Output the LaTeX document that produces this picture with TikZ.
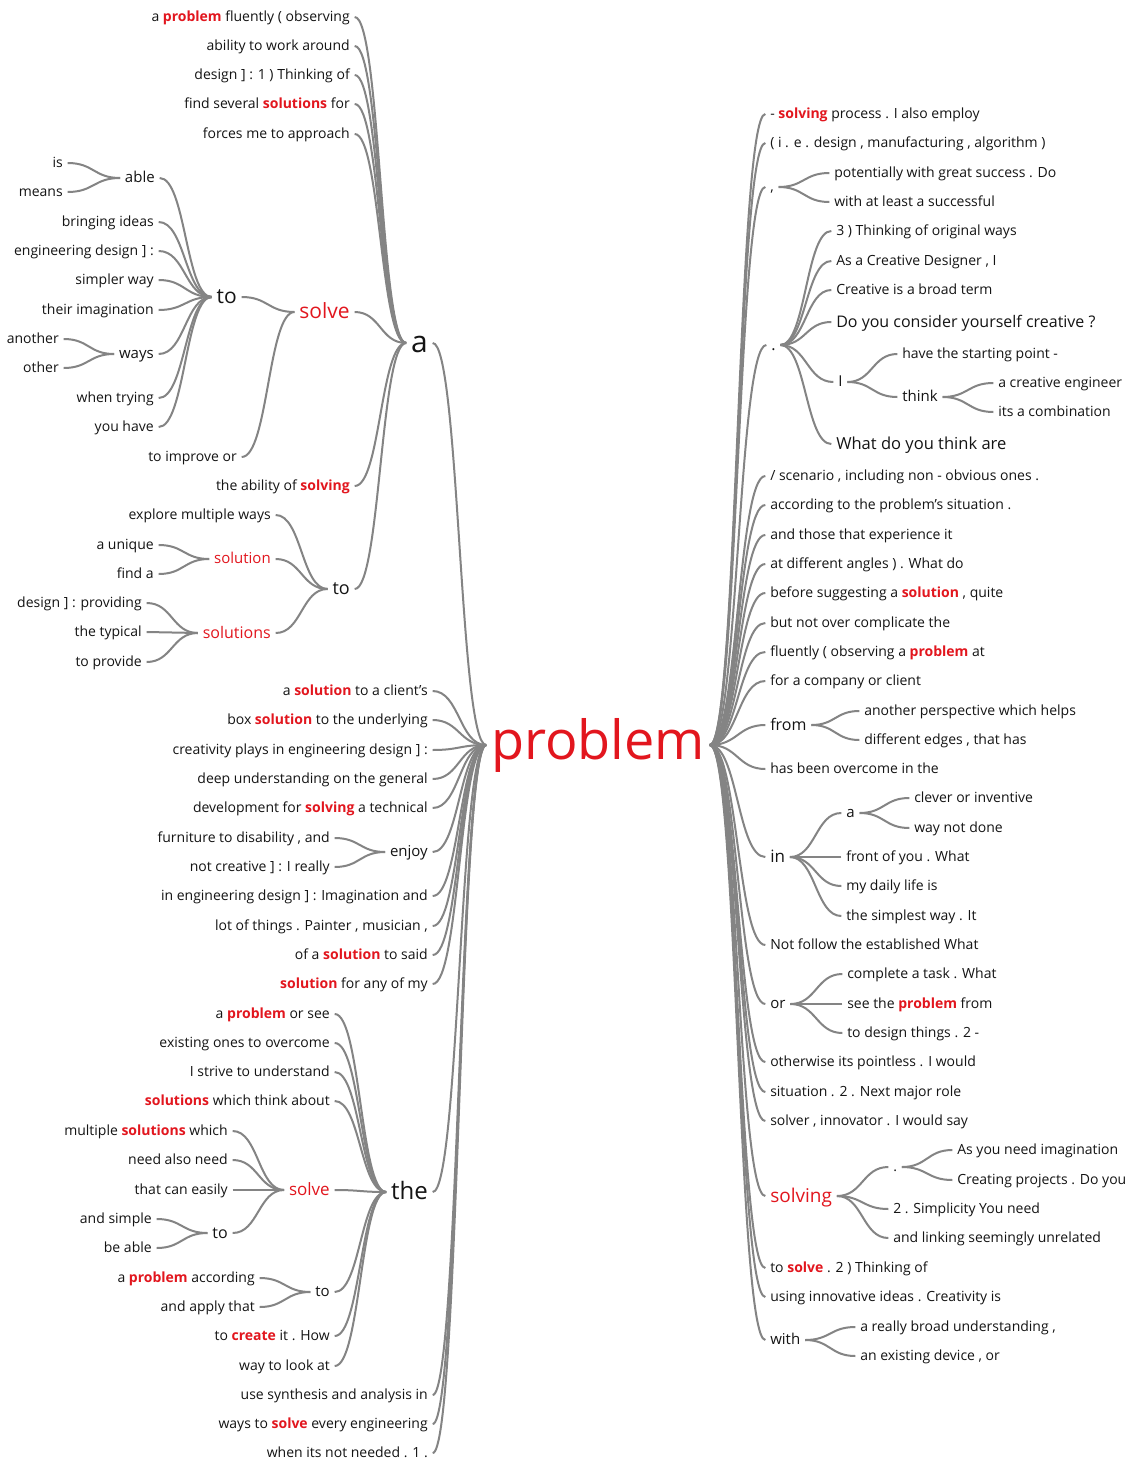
\documentclass[tikz,border=0pt]{standalone}
\usepackage{fontspec}
\setmainfont{Open Sans}
\usetikzlibrary{calc}
\definecolor{wred}{RGB}{226,22,30}
\definecolor{wline}{RGB}{132,132,132}
\definecolor{wtxt}{RGB}{20,20,20}
\newcommand\hl[1]{{\color{wred}\bfseries #1}}
\newcommand\lk[2]{\draw[lnk] let \p1=(#1),\p2=(#2) in (\p1) .. controls ({(\x1+\x2)/2},\y1) and ({(\x1+\x2)/2},\y2) .. (\p2);}
\tikzset{
  sz/.style={font=\fontsize{#1pt}{#1pt}\selectfont, text height=\dimexpr#1pt*84/100\relax, text depth=\dimexpr#1pt*20/100\relax},
  w/.style={inner sep=0pt, text=wtxt, sz=10.5},
  L/.style={w, anchor=east},
  R/.style={w, anchor=west},
  lnk/.style={draw=wline, line width=1.5pt, shorten <=3.5pt, shorten >=3.5pt},
}
\begin{document}
\begin{tikzpicture}[x=0.75pt,y=-0.75pt]
\useasboundingbox[fill=white] (0,0) rectangle (1129,1463);
% root
\node[w,sz=40.5,text=wred,text height=29.2pt,text depth=8.1pt] (P) at (598,745) {problem};

% ================= LEFT =================
\node[L,sz=22.5] (a) at (428,343) {a};
\node[L] (a1) at (350,17) {a \hl{problem} fluently ( observing};
\node[L] (a2) at (350,46) {ability to work around};
\node[L] (a3) at (350,75) {design ] : 1 ) Thinking of};
\node[L] (a4) at (350,104) {find several \hl{solutions} for};
\node[L] (a5) at (350,134) {forces me to approach};
\node[L,sz=15.75,text=wred] (sv) at (350,312) {solve};
\node[L,sz=15.75] (to1) at (237,297) {to};
\node[L,sz=11.25] (able) at (155,178) {able};
\node[L] (is) at (63,163) {is};
\node[L] (means) at (63,192) {means};
\node[L] (bi) at (154,222) {bringing ideas};
\node[L] (ed) at (154,251) {engineering design ] :};
\node[L] (sw) at (154,280) {simpler way};
\node[L] (ti) at (154,310) {their imagination};
\node[L,sz=11.25] (ways) at (154,354) {ways};
\node[L] (another) at (59,339) {another};
\node[L] (other) at (59,368) {other};
\node[L] (wt) at (154,398) {when trying};
\node[L] (yh) at (154,427) {you have};
\node[L] (tio) at (237,457) {to improve or};
\node[L] (tao) at (350,486) {the ability of \hl{solving}};
\node[L,sz=13.5] (to2) at (350,589) {to};
\node[L] (emw) at (271,515) {explore multiple ways};
\node[L,sz=11.25,text=wred] (sol) at (271,559) {solution};
\node[L] (au) at (154,545) {a unique};
\node[L] (fa) at (154,574) {find a};
\node[L,sz=12,text=wred] (sols) at (271,633) {solutions};
\node[L] (dp) at (142,603) {design ] : providing};
\node[L] (tt) at (142,632) {the typical};
\node[L] (tp) at (142,662) {to provide};

\node[L] (m1) at (428,691) {a \hl{solution} to a client's};
\node[L] (m2) at (428,720) {box \hl{solution} to the underlying};
\node[L] (m3) at (428,750) {creativity plays in engineering design ] :};
\node[L] (m4) at (428,779) {deep understanding on the general};
\node[L] (m5) at (428,808) {development for \hl{solving} a technical};
\node[L,sz=11.25] (enjoy) at (428,852) {enjoy};
\node[L] (fur) at (330,838) {furniture to disability , and};
\node[L] (nc) at (330,867) {not creative ] : I really};
\node[L] (m8) at (428,896) {in engineering design ] : Imagination and};
\node[L] (m9) at (428,926) {lot of things . Painter , musician ,};
\node[L] (m10) at (428,955) {of a \hl{solution} to said};
\node[L] (m11) at (428,984) {\hl{solution} for any of my};

\node[L,sz=18] (the) at (428,1192) {the};
\node[L] (t1) at (330,1014) {a \hl{problem} or see};
\node[L] (t2) at (330,1043) {existing ones to overcome};
\node[L] (t3) at (330,1072) {I strive to understand};
\node[L] (t4) at (330,1101) {\hl{solutions} which think about};
\node[L,sz=12.75,text=wred] (sv2) at (330,1190) {solve};
\node[L] (msw) at (228,1131) {multiple \hl{solutions} which};
\node[L] (nan) at (228,1160) {need also need};
\node[L] (tce) at (228,1190) {that can easily};
\node[L,sz=12] (to3) at (228,1233) {to};
\node[L] (as) at (152,1219) {and simple};
\node[L] (ba) at (152,1248) {be able};
\node[L,sz=11.25] (to4) at (330,1292) {to};
\node[L] (apa) at (255,1278) {a \hl{problem} according};
\node[L] (aat) at (255,1307) {and apply that};
\node[L] (tci) at (330,1336) {to \hl{create} it . How};
\node[L] (wtl) at (330,1366) {way to look at};
\node[L] (b1) at (428,1395) {use synthesis and analysis in};
\node[L] (b2) at (428,1424) {ways to \hl{solve} every engineering};
\node[L] (b3) at (428,1453) {when its not needed . 1 .};

% ================= RIGHT =================
\node[R] (r1) at (770,114) {- \hl{solving} process . I also employ};
\node[R] (r2) at (770,143) {( i . e . design , manufacturing , algorithm )};
\node[R] (comma) at (770,187) {,};
\node[R] (pw) at (834,173) {potentially with great success . Do};
\node[R] (wal) at (834,202) {with at least a successful};
\node[R,sz=12] (dot) at (771,345) {.};
\node[R] (d1) at (836,231) {3 ) Thinking of original ways};
\node[R] (d2) at (836,261) {As a Creative Designer , I};
\node[R] (d3) at (836,290) {Creative is a broad term};
\node[R,sz=12] (d4) at (836,322) {Do you consider yourself creative ?};
\node[R,sz=11.25] (I) at (838,382) {I};
\node[R] (hts) at (902,354) {have the starting point -};
\node[R,sz=11.25] (think) at (902,397) {think};
\node[R] (ace) at (998,383) {a creative engineer};
\node[R] (iac) at (998,412) {its a combination};
\node[R,sz=12.4] (d6) at (836,444) {What do you think are};
\node[R] (r5) at (770,476) {/ scenario , including non - obvious ones .};
\node[R] (r6) at (770,505) {according to the problem's situation .};
\node[R] (r7) at (770,535) {and those that experience it};
\node[R] (r8) at (770,564) {at different angles ) . What do};
\node[R] (r9) at (770,593) {before suggesting a \hl{solution} , quite};
\node[R] (r10) at (770,623) {but not over complicate the};
\node[R] (r11) at (770,652) {fluently ( observing a \hl{problem} at};
\node[R] (r12) at (770,681) {for a company or client};
\node[R,sz=12] (from) at (770,725) {from};
\node[R] (apw) at (864,711) {another perspective which helps};
\node[R] (deth) at (864,740) {different edges , that has};
\node[R] (r14) at (770,769) {has been overcome in the};
\node[R,sz=12.75] (in) at (770,857) {in};
\node[R,sz=11.25] (ina) at (846,813) {a};
\node[R] (coi) at (914,798) {clever or inventive};
\node[R] (wnd) at (914,828) {way not done};
\node[R] (foy) at (846,857) {front of you . What};
\node[R] (mdl) at (846,886) {my daily life is};
\node[R] (tsw) at (846,916) {the simplest way . It};
\node[R] (r16) at (770,945) {Not follow the established What};
\node[R,sz=11.25] (or) at (770,1004) {or};
\node[R] (cat) at (847,974) {complete a task . What};
\node[R] (stp) at (847,1004) {see the \hl{problem} from};
\node[R] (tdt) at (847,1033) {to design things . 2 -};
\node[R] (r18) at (770,1062) {otherwise its pointless . I would};
\node[R] (r19) at (770,1092) {situation . 2 . Next major role};
\node[R] (r20) at (770,1121) {solver , innovator . I would say};
\node[R,sz=14.25,text=wred] (solving) at (770,1196) {solving};
\node[R] (sdot) at (893,1167) {.};
\node[R] (ayn) at (957,1150) {As you need imagination};
\node[R] (cpd) at (957,1180) {Creating projects . Do you};
\node[R] (syn) at (893,1209) {2 . Simplicity You need};
\node[R] (als) at (893,1238) {and linking seemingly unrelated};
\node[R] (r22) at (770,1268) {to \hl{solve} . 2 ) Thinking of};
\node[R] (r23) at (770,1297) {using innovative ideas . Creativity is};
\node[R,sz=11.25] (with) at (770,1340) {with};
\node[R] (arb) at (860,1327) {a really broad understanding ,};
\node[R] (aed) at (860,1356) {an existing device , or};

% ================= LINKS LEFT =================
\foreach \c in {a,m1,m2,m3,m4,m5,enjoy,m8,m9,m10,m11,the,b1,b2,b3} {\lk{\c.east}{P.west}}
\foreach \c in {a1,a2,a3,a4,a5,sv,tao,to2} {\lk{\c.east}{a.west}}
\foreach \c in {to1,tio} {\lk{\c.east}{sv.west}}
\foreach \c in {able,bi,ed,sw,ti,ways,wt,yh} {\lk{\c.east}{to1.west}}
\foreach \c in {is,means} {\lk{\c.east}{able.west}}
\foreach \c in {another,other} {\lk{\c.east}{ways.west}}
\foreach \c in {emw,sol,sols} {\lk{\c.east}{to2.west}}
\foreach \c in {au,fa} {\lk{\c.east}{sol.west}}
\foreach \c in {dp,tt,tp} {\lk{\c.east}{sols.west}}
\foreach \c in {fur,nc} {\lk{\c.east}{enjoy.west}}
\foreach \c in {t1,t2,t3,t4,sv2,to4,tci,wtl} {\lk{\c.east}{the.west}}
\foreach \c in {msw,nan,tce,to3} {\lk{\c.east}{sv2.west}}
\foreach \c in {as,ba} {\lk{\c.east}{to3.west}}
\foreach \c in {apa,aat} {\lk{\c.east}{to4.west}}
% ================= LINKS RIGHT =================
\foreach \c in {r1,r2,comma,dot,r5,r6,r7,r8,r9,r10,r11,r12,from,r14,in,r16,or,r18,r19,r20,solving,r22,r23,with} {\lk{\c.west}{P.east}}
\foreach \c in {pw,wal} {\lk{\c.west}{comma.east}}
\foreach \c in {d1,d2,d3,d4,I,d6} {\lk{\c.west}{dot.east}}
\foreach \c in {hts,think} {\lk{\c.west}{I.east}}
\foreach \c in {ace,iac} {\lk{\c.west}{think.east}}
\foreach \c in {apw,deth} {\lk{\c.west}{from.east}}
\foreach \c in {ina,foy,mdl,tsw} {\lk{\c.west}{in.east}}
\foreach \c in {coi,wnd} {\lk{\c.west}{ina.east}}
\foreach \c in {cat,stp,tdt} {\lk{\c.west}{or.east}}
\foreach \c in {sdot,syn,als} {\lk{\c.west}{solving.east}}
\foreach \c in {ayn,cpd} {\lk{\c.west}{sdot.east}}
\foreach \c in {arb,aed} {\lk{\c.west}{with.east}}
\end{tikzpicture}
\end{document}
